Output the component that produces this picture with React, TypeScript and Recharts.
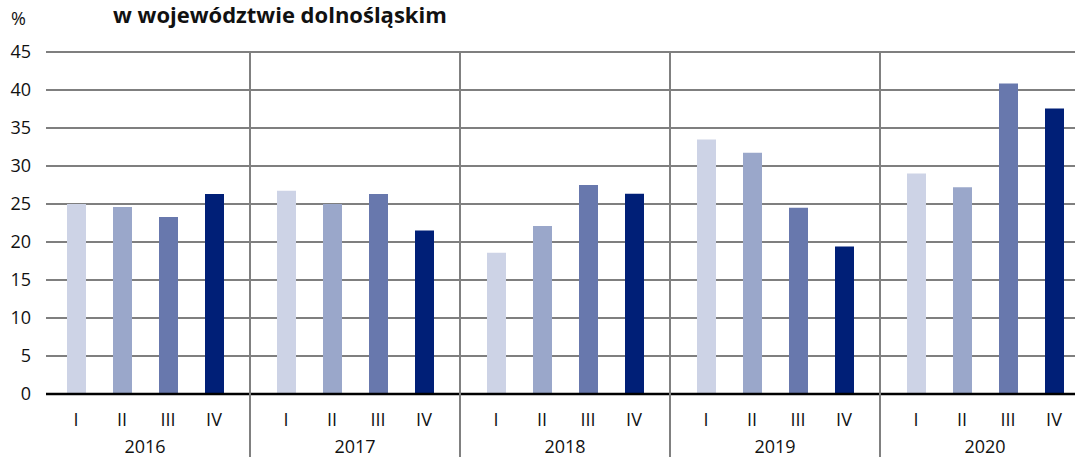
import { BarChart, Bar, XAxis, YAxis, CartesianGrid } from 'recharts';

const years = ['2016', '2017', '2018', '2019', '2020'];
const quarters = ['I', 'II', 'III', 'IV'];
const q1 = [25.0, 26.75, 18.6, 33.5, 29.0];
const q2 = [24.6, 25.0, 22.1, 31.75, 27.2];
const q3 = [23.3, 26.3, 27.5, 24.5, 40.85];
const q4 = [26.3, 21.5, 26.35, 19.4, 37.55];
const yTicks = [0, 5, 10, 15, 20, 25, 30, 35, 40, 45];

const colors = ['#cdd3e6', '#9aa7ca', '#6878ad', '#001f77'];

const data = years.map((year, i) => ({
  year,
  I: q1[i],
  II: q2[i],
  III: q3[i],
  IV: q4[i],
}));

const FONT = '"Open Sans", "Noto Sans", sans-serif';
const BAR_SIZE = 19;
const BAR_GAP = 27;
const TOP = 52;
const AXIS_H = 63;
const CHART_H = 457;
const PLOT_H = CHART_H - TOP - AXIS_H;
const BAND = 210;

const YearTick = (props: any) => {
  const { x, y, payload } = props;
  const step = BAR_SIZE + BAR_GAP;
  return (
    <g>
      {quarters.map((q, k) => (
        <text
          key={q}
          x={x + (k - 1.5) * step}
          y={y + 32}
          textAnchor="middle"
          fontSize={18}
          fill="#111"
          fontFamily={FONT}
        >
          {q}
        </text>
      ))}
      <text x={x} y={y + 59} textAnchor="middle" fontSize={18} fill="#111" fontFamily={FONT}>
        {payload.value}
      </text>
      <line
        x1={x + BAND / 2}
        x2={x + BAND / 2}
        y1={y - PLOT_H}
        y2={y + AXIS_H}
        stroke="#808080"
        strokeWidth={2}
      />
    </g>
  );
};

export default function App() {
  return (
    <div
      style={{
        position: 'absolute',
        left: 0,
        top: 0,
        width: 1075,
        height: CHART_H,
        overflow: 'hidden',
        background: '#fff',
      }}
    >
      <div
        style={{
          position: 'absolute',
          left: 11,
          top: 6,
          fontSize: 18,
          fontFamily: FONT,
          color: '#111',
        }}
      >
        %
      </div>
      <div
        style={{
          position: 'absolute',
          left: 113,
          top: -1,
          fontSize: 22,
          fontWeight: 700,
          fontFamily: FONT,
          color: '#111',
          whiteSpace: 'nowrap',
        }}
      >
        w województwie dolnośląskim
      </div>
      <BarChart
        width={1100}
        height={CHART_H}
        data={data}
        margin={{ top: TOP, right: 10, bottom: 0, left: 0 }}
        barSize={BAR_SIZE}
        barGap={BAR_GAP}
      >
        <CartesianGrid vertical={false} stroke="#000" strokeWidth={1.2} />
        <XAxis
          dataKey="year"
          height={AXIS_H}
          padding={{ left: -6, right: 0 }}
          tickLine={false}
          tickSize={0}
          tickMargin={0}
          axisLine={{ stroke: '#000', strokeWidth: 2.5 }}
          tick={<YearTick />}
          interval={0}
        />
        <YAxis
          domain={[0, 45]}
          ticks={yTicks}
          width={46}
          axisLine={false}
          tickLine={false}
          tickSize={0}
          tickMargin={15}
          tick={{ fontSize: 18, fill: '#111', fontFamily: FONT }}
        />
        {quarters.map((q, k) => (
          <Bar key={q} dataKey={q} fill={colors[k]} isAnimationActive={false} />
        ))}
      </BarChart>
    </div>
  );
}
